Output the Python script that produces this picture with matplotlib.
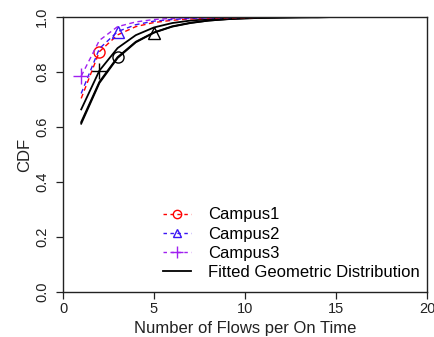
import matplotlib
matplotlib.use("Agg")
import matplotlib.pyplot as plt
from matplotlib.lines import Line2D

plt.rcParams['font.family'] = ['Liberation Sans', 'DejaVu Sans']
plt.rcParams['lines.scale_dashes'] = False

# Number of flows per ON period
flows = list(range(1, 21))

# Empirical CDFs per campus
campus1 = [0.704, 0.874, 0.935, 0.965, 0.980, 0.988, 0.993, 0.995, 0.997, 0.998,
           0.999, 0.999, 1.0, 1.0, 1.0, 1.0, 1.0, 1.0, 1.0, 1.0]
campus2 = [0.722, 0.885, 0.947, 0.972, 0.985, 0.991, 0.995, 0.997, 0.998, 0.999,
           0.999, 1.0, 1.0, 1.0, 1.0, 1.0, 1.0, 1.0, 1.0, 1.0]
campus3 = [0.785, 0.915, 0.965, 0.982, 0.991, 0.995, 0.997, 0.998, 0.999, 0.999,
           1.0, 1.0, 1.0, 1.0, 1.0, 1.0, 1.0, 1.0, 1.0, 1.0]

# Fitted geometric CDFs
fit1 = [0.618, 0.764, 0.854, 0.910, 0.944, 0.966, 0.979, 0.987, 0.992, 0.995,
        0.997, 0.998, 0.999, 0.999, 1.0, 1.0, 1.0, 1.0, 1.0, 1.0]
fit2 = [0.612, 0.760, 0.851, 0.908, 0.943, 0.965, 0.978, 0.987, 0.992, 0.995,
        0.997, 0.998, 0.999, 0.999, 1.0, 1.0, 1.0, 1.0, 1.0, 1.0]
fit3 = [0.664, 0.805, 0.887, 0.934, 0.962, 0.978, 0.987, 0.992, 0.995, 0.997,
        0.998, 0.999, 0.999, 1.0, 1.0, 1.0, 1.0, 1.0, 1.0, 1.0]

labels = ["Campus1", "Campus2", "Campus3", "Fitted Geometric Distribution"]
xticks = [0, 5, 10, 15, 20]
yticks = [0.0, 0.2, 0.4, 0.6, 0.8, 1.0]

RED = "#ff0000"
BLUE = "#3a14f5"
PURPLE = "#a020f0"
INK = "#222222"

fig = plt.figure(figsize=(4.34, 3.37), dpi=100)
ax = fig.add_axes([63 / 434, 45 / 337, 364 / 434, 275 / 337])

mk = dict(markersize=8, markerfacecolor='none', markeredgewidth=1.0)
dash = (3.5, 2.5)

# fitted curves (drawn underneath)
ax.plot(flows, fit1, color='black', lw=1.3, marker='o', markevery=[2], **mk)
ax.plot(flows, fit2, color='black', lw=1.3, marker='^', markevery=[4], **mk)
ax.plot(flows, fit3, color='black', lw=1.3, marker='+', markevery=[1],
        markersize=11, markeredgewidth=1.0)

# empirical curves
ax.plot(flows, campus1, color=RED, lw=1.0, dashes=dash, marker='o', markevery=[1], **mk)
ax.plot(flows, campus2, color=BLUE, lw=1.0, dashes=dash, marker='^', markevery=[2], **mk)
ax.plot(flows, campus3, color=PURPLE, lw=1.0, dashes=dash, marker='+', markevery=[0],
        markersize=11, markeredgewidth=1.0)

ax.set_xlim(0, 20)
ax.set_ylim(0, 1)
ax.set_xticks(xticks)
ax.set_yticks(yticks)
ax.set_yticklabels([f"{v:.1f}" for v in yticks], rotation=90, va='center')
ax.tick_params(labelsize=10.5, length=5, width=0.9, colors=INK, labelcolor=INK)
ax.tick_params(axis='y', pad=5)
ax.tick_params(axis='x', pad=2)
for s in ax.spines.values():
    s.set_linewidth(1.0)
    s.set_color(INK)

ax.set_xlabel("Number of Flows per On Time", fontsize=12, color=INK, labelpad=4)
ax.set_ylabel("CDF", fontsize=12, color=INK, labelpad=2)

handles = [
    Line2D([], [], color=RED, lw=1.0, dashes=(2.5, 2.5), marker='o', markersize=6,
           markerfacecolor='none'),
    Line2D([], [], color=BLUE, lw=1.0, dashes=(2.5, 2.5), marker='^', markersize=6,
           markerfacecolor='none'),
    Line2D([], [], color=PURPLE, lw=1.0, dashes=(2.5, 2.5), marker='+', markersize=8),
    Line2D([], [], color='black', lw=1.3),
]
ax.legend(handles, labels, loc='lower left', bbox_to_anchor=(163 / 434, 57 / 337),
          bbox_transform=fig.transFigure, frameon=False, fontsize=12,
          borderpad=0, borderaxespad=0, handlelength=1.65, handletextpad=1.05,
          labelspacing=0.25)

fig.savefig("out.png", dpi=100)
